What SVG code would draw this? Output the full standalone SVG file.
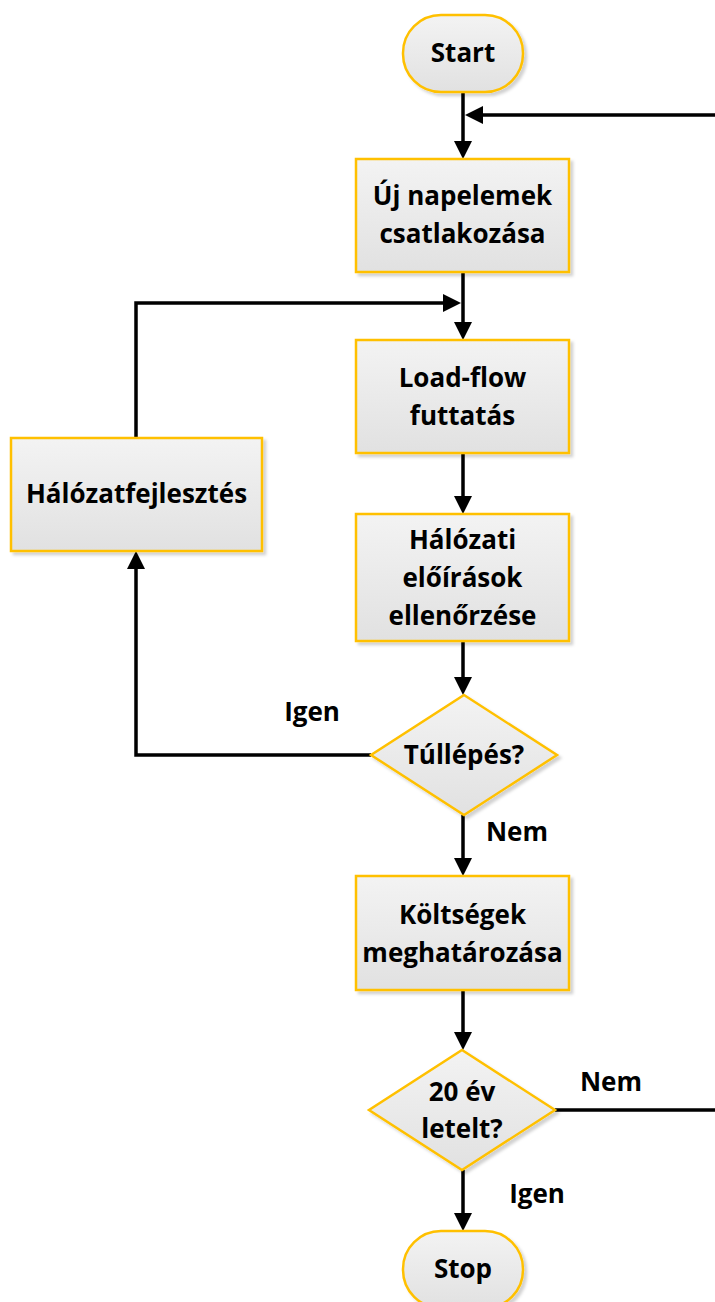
<svg xmlns="http://www.w3.org/2000/svg" width="715" height="1302" viewBox="0 0 715 1302">
<style>
.shape{fill:url(#g);stroke:#FFC000;stroke-width:2.5;filter:url(#sh)}
.t{font-family:"Open Sans","Liberation Sans",sans-serif;font-weight:bold;font-size:26px;fill:#000;text-anchor:middle}
.c{fill:none;stroke:#000;stroke-width:3.5}
</style>
<defs>
<linearGradient id="g" x1="0" y1="0" x2="0" y2="1">
<stop offset="0" stop-color="#f3f3f3"/>
<stop offset="1" stop-color="#e1e1e1"/>
</linearGradient>
<filter id="sh" x="-10%" y="-10%" width="130%" height="130%">
<feDropShadow dx="3" dy="3" stdDeviation="1.5" flood-color="#000" flood-opacity="0.18"/>
</filter>
<marker id="a" viewBox="0 0 18 18" refX="8" refY="9" markerWidth="18" markerHeight="18" markerUnits="userSpaceOnUse" orient="auto">
<path d="M0,0 L18,9 L0,18 z" fill="#000"/>
</marker>
</defs>
<g id="connectors">
<path class="c" d="M463,92 V149" marker-end="url(#a)"/>
<path class="c" d="M555,1110 H719 V115 H475" marker-end="url(#a)"/>
<path class="c" d="M463,272 V330" marker-end="url(#a)"/>
<path class="c" d="M136,438 V303 H451" marker-end="url(#a)"/>
<path class="c" d="M463,453 V504" marker-end="url(#a)"/>
<path class="c" d="M463,641 V685" marker-end="url(#a)"/>
<path class="c" d="M371,755 H136 V561" marker-end="url(#a)"/>
<path class="c" d="M463,815 V866" marker-end="url(#a)"/>
<path class="c" d="M463,990 V1040" marker-end="url(#a)"/>
<path class="c" d="M463,1170 V1221" marker-end="url(#a)"/>
</g>
<g id="start">
<rect class="shape" x="403" y="15" width="120" height="77" rx="38" ry="38"/>
<text class="t" x="463" y="62">Start</text>
</g>
<g id="uj-napelemek">
<rect class="shape" x="356" y="159" width="213" height="113"/>
<text class="t" x="462.5" y="205">Új napelemek</text>
<text class="t" x="462.5" y="243">csatlakozása</text>
</g>
<g id="load-flow">
<rect class="shape" x="356" y="340" width="213" height="113"/>
<text class="t" x="462.5" y="387">Load-flow</text>
<text class="t" x="462.5" y="425">futtatás</text>
</g>
<g id="eloirasok">
<rect class="shape" x="356" y="514" width="213" height="127"/>
<text class="t" x="462.5" y="549">Hálózati</text>
<text class="t" x="462.5" y="587">előírások</text>
<text class="t" x="462.5" y="625">ellenőrzése</text>
</g>
<g id="halozatfejlesztes">
<rect class="shape" x="11" y="438" width="251" height="113"/>
<text class="t" x="136.5" y="503">Hálózatfejlesztés</text>
</g>
<g id="tullepes">
<polygon class="shape" points="464,695 557,755 464,815 371,755"/>
<text class="t" x="464" y="764">Túllépés?</text>
</g>
<g id="koltsegek">
<rect class="shape" x="356" y="876" width="213" height="114"/>
<text class="t" x="462.5" y="924">Költségek</text>
<text class="t" x="462.5" y="962">meghatározása</text>
</g>
<g id="ev20">
<polygon class="shape" points="462,1050 555,1110 462,1170 369,1110"/>
<text class="t" x="462" y="1101">20 év</text>
<text class="t" x="462" y="1138">letelt?</text>
</g>
<g id="stop">
<rect class="shape" x="403" y="1231" width="120" height="77" rx="38" ry="38"/>
<text class="t" x="463" y="1278">Stop</text>
</g>
<g id="labels">
<text class="t" x="312" y="721">Igen</text>
<text class="t" x="517" y="841">Nem</text>
<text class="t" x="611" y="1091">Nem</text>
<text class="t" x="537" y="1203">Igen</text>
</g>
</svg>
